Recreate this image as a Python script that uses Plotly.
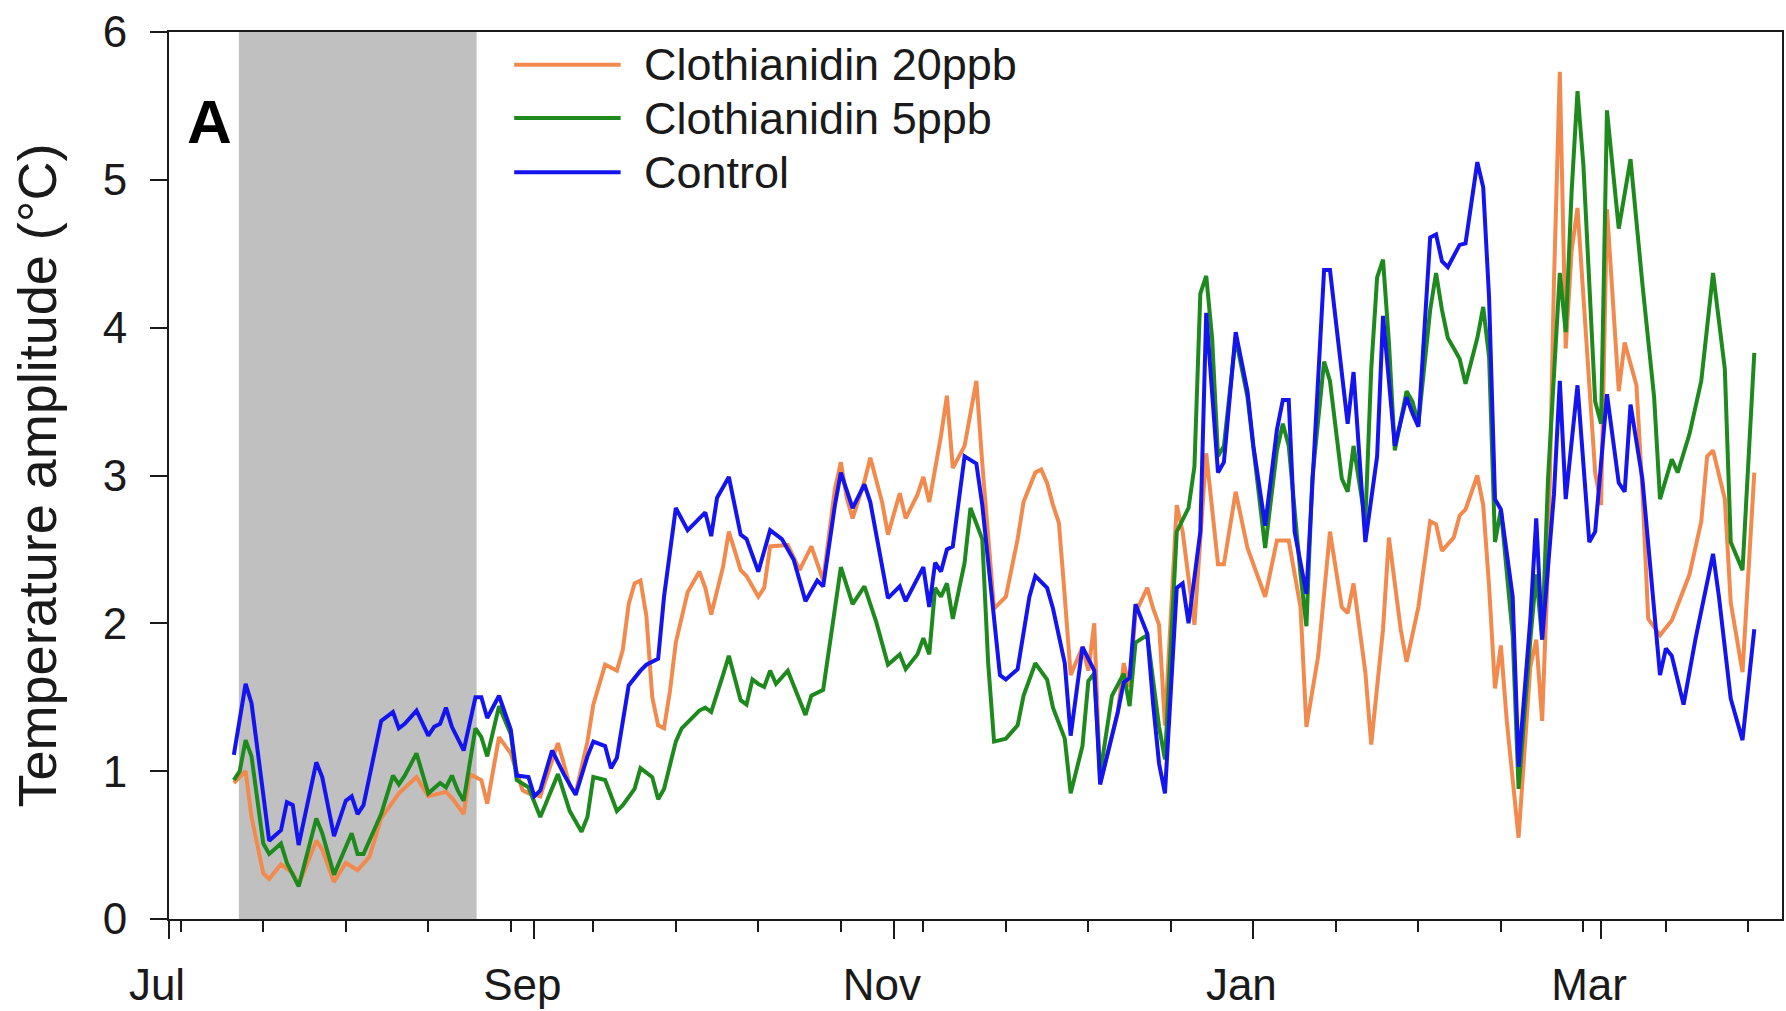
import plotly.graph_objects as go
from datetime import datetime, timedelta

# Season runs from 1 July; every x value below is "days since 1 July".
SEASON_START = datetime(2014, 7, 1)
SEASON_LENGTH = 273.7

# Daily temperature amplitude (°C) per treatment
c20_days = [11, 13, 14, 16, 17, 19, 21, 22, 25, 26, 28, 30, 32, 34, 36, 39, 42, 44, 47, 48,
            50, 51, 53, 54, 56, 58, 60, 61, 63, 66, 67, 68, 69, 71, 72, 74, 76, 77, 78, 79,
            80, 81, 82, 83, 84, 85, 86, 88, 90, 91, 92, 94, 95, 97, 98, 100, 101, 102, 105, 107,
            109, 110, 111, 113, 114, 115, 116, 118, 119, 121, 122, 124, 125, 127, 128, 129, 131, 132, 133, 135,
            137, 138, 140, 142, 144, 145, 147, 148, 149, 150, 151, 152, 153, 155, 156, 157, 158, 161, 162, 163,
            164, 166, 167, 168, 169, 171, 172, 174, 176, 178, 179, 181, 183, 186, 188, 190, 192, 193, 195, 197,
            199, 200, 201, 203, 204, 206, 207, 209, 210, 212, 214, 215, 216, 218, 219, 220, 222, 223, 224, 225,
            226, 227, 229, 231, 232, 233, 234, 235, 236, 237, 238, 239, 240, 242, 243, 244, 246, 247, 249, 250,
            251, 253, 255, 258, 260, 261, 262, 264, 265, 267, 269]
c20_vals = [0.92, 1.00, 0.69, 0.31, 0.27, 0.37, 0.31, 0.23, 0.53, 0.47, 0.25, 0.38, 0.33, 0.42, 0.68, 0.85, 0.96, 0.83, 0.86, 0.82,
            0.71, 0.98, 0.94, 0.78, 1.23, 1.12, 0.87, 0.85, 0.83, 1.19, 1.05, 0.90, 0.85, 1.20, 1.45, 1.72, 1.68, 1.82, 2.13, 2.27,
            2.29, 2.05, 1.50, 1.31, 1.29, 1.54, 1.87, 2.21, 2.35, 2.24, 2.06, 2.38, 2.62, 2.36, 2.32, 2.18, 2.24, 2.52, 2.53, 2.36,
            2.52, 2.41, 2.29, 2.91, 3.09, 2.85, 2.71, 2.96, 3.12, 2.82, 2.60, 2.88, 2.71, 2.87, 2.99, 2.82, 3.27, 3.54, 3.05, 3.20,
            3.64, 3.08, 2.10, 2.18, 2.57, 2.82, 3.02, 3.04, 2.95, 2.80, 2.68, 2.18, 1.65, 1.84, 1.68, 2.00, 0.92, 1.40, 1.73, 1.57,
            2.07, 2.24, 2.10, 1.99, 1.31, 2.80, 2.62, 1.99, 3.15, 2.40, 2.40, 2.89, 2.51, 2.18, 2.56, 2.56, 2.11, 1.30, 1.78, 2.62,
            2.11, 2.07, 2.27, 1.67, 1.18, 1.96, 2.58, 1.96, 1.74, 2.11, 2.69, 2.67, 2.49, 2.58, 2.73, 2.77, 3.00, 2.80, 2.25, 1.56,
            1.85, 1.34, 0.55, 1.71, 1.89, 1.34, 2.40, 4.30, 5.73, 3.86, 4.52, 4.81, 4.19, 3.02, 2.80, 4.80, 3.57, 3.90, 3.61, 2.91,
            2.03, 1.92, 2.02, 2.33, 2.69, 3.13, 3.17, 2.84, 2.14, 1.67, 3.02]

c5_days = [11, 12, 13, 14, 16, 17, 19, 20, 22, 25, 26, 28, 31, 32, 33, 36, 38, 39, 40, 42,
           44, 46, 47, 48, 49, 50, 52, 53, 54, 56, 58, 59, 61, 63, 66, 67, 68, 70, 71, 72,
           74, 76, 77, 79, 80, 82, 83, 84, 86, 87, 90, 91, 92, 94, 95, 97, 98, 99, 100, 101,
           102, 103, 105, 106, 108, 109, 111, 113, 114, 116, 118, 120, 122, 124, 125, 127, 128, 129, 130, 131,
           132, 133, 135, 136, 138, 139, 140, 142, 144, 145, 147, 149, 150, 152, 153, 155, 156, 157, 158, 160,
           162, 163, 164, 166, 168, 169, 171, 173, 174, 175, 176, 177, 178, 179, 181, 183, 184, 186, 188, 189,
           190, 192, 193, 194, 196, 197, 199, 200, 201, 203, 204, 205, 206, 207, 208, 210, 211, 212, 214, 215,
           216, 217, 218, 219, 220, 222, 223, 224, 225, 226, 228, 229, 231, 232, 233, 234, 236, 237, 238, 239,
           240, 242, 243, 244, 246, 248, 250, 252, 253, 255, 256, 258, 260, 262, 264, 265, 267, 269]
c5_vals = [0.94, 1.00, 1.21, 1.10, 0.51, 0.44, 0.51, 0.38, 0.22, 0.68, 0.58, 0.30, 0.58, 0.44, 0.44, 0.71, 0.97, 0.91, 0.97, 1.12,
           0.85, 0.92, 0.89, 0.97, 0.87, 0.80, 1.29, 1.23, 1.10, 1.44, 1.25, 0.94, 0.89, 0.69, 0.98, 0.85, 0.73, 0.59, 0.69, 0.96,
           0.94, 0.73, 0.77, 0.88, 1.02, 0.96, 0.81, 0.88, 1.20, 1.29, 1.41, 1.43, 1.40, 1.65, 1.78, 1.48, 1.45, 1.62, 1.59, 1.57,
           1.68, 1.59, 1.68, 1.58, 1.38, 1.51, 1.55, 2.10, 2.38, 2.13, 2.25, 2.01, 1.72, 1.79, 1.69, 1.79, 1.90, 1.79, 2.24, 2.18,
           2.27, 2.03, 2.41, 2.78, 2.57, 1.73, 1.20, 1.22, 1.31, 1.51, 1.73, 1.62, 1.43, 1.22, 0.85, 1.17, 1.61, 1.66, 0.98, 1.51,
           1.66, 1.44, 1.87, 1.92, 1.30, 1.08, 2.62, 2.78, 3.06, 4.23, 4.35, 3.93, 3.13, 3.20, 3.93, 3.53, 3.17, 2.51, 3.17, 3.35,
           3.20, 2.33, 1.98, 2.98, 3.77, 3.64, 2.98, 2.89, 3.20, 2.69, 3.72, 4.34, 4.46, 3.90, 3.17, 3.57, 3.50, 3.35, 4.12, 4.37,
           4.12, 3.93, 3.86, 3.79, 3.62, 3.93, 4.14, 3.80, 2.55, 2.77, 1.92, 0.88, 1.89, 2.33, 1.89, 2.98, 4.37, 3.97, 4.92, 5.60,
           5.10, 3.50, 3.35, 5.47, 4.67, 5.14, 4.30, 3.53, 2.84, 3.11, 3.02, 3.28, 3.64, 4.37, 3.72, 2.55, 2.36, 3.83]

ctrl_days = [11, 13, 14, 17, 19, 20, 21, 22, 25, 26, 28, 30, 31, 32, 33, 35, 36, 38, 39, 40,
             42, 44, 45, 46, 47, 48, 50, 52, 53, 54, 56, 58, 59, 61, 62, 63, 65, 67, 69, 71,
             72, 74, 75, 76, 78, 80, 81, 83, 84, 86, 88, 89, 91, 92, 93, 95, 97, 98, 100, 102,
             104, 106, 108, 110, 111, 113, 114, 116, 118, 119, 122, 124, 125, 128, 129, 130, 131, 132, 133, 135,
             137, 138, 141, 142, 144, 146, 147, 149, 150, 152, 153, 155, 157, 158, 161, 162, 163, 164, 166, 167,
             168, 169, 171, 172, 173, 175, 176, 178, 179, 181, 183, 184, 186, 188, 189, 190, 191, 193, 195, 196,
             197, 200, 201, 203, 205, 206, 208, 210, 211, 212, 214, 215, 216, 217, 219, 220, 222, 223, 224, 225,
             226, 228, 229, 231, 232, 233, 235, 236, 237, 239, 241, 242, 244, 246, 247, 248, 250, 252, 253, 254,
             255, 257, 259, 262, 263, 265, 267, 269]
ctrl_vals = [1.11, 1.59, 1.46, 0.53, 0.60, 0.79, 0.77, 0.50, 1.06, 0.96, 0.56, 0.80, 0.83, 0.71, 0.77, 1.14, 1.34, 1.40, 1.29, 1.32,
             1.41, 1.24, 1.30, 1.32, 1.43, 1.30, 1.14, 1.50, 1.50, 1.36, 1.51, 1.28, 0.97, 0.96, 0.83, 0.87, 1.14, 0.98, 0.84, 1.10,
             1.20, 1.17, 1.02, 1.09, 1.58, 1.68, 1.72, 1.76, 2.18, 2.78, 2.63, 2.67, 2.75, 2.59, 2.85, 2.99, 2.60, 2.57, 2.35, 2.63,
             2.57, 2.43, 2.15, 2.29, 2.25, 2.80, 3.02, 2.78, 2.94, 2.82, 2.17, 2.25, 2.15, 2.38, 2.11, 2.41, 2.35, 2.50, 2.52, 3.13,
             3.08, 2.80, 1.65, 1.62, 1.69, 2.18, 2.32, 2.24, 2.10, 1.73, 1.24, 1.84, 1.68, 0.91, 1.40, 1.60, 1.63, 2.13, 1.93, 1.45,
             1.05, 0.85, 2.24, 2.27, 2.00, 2.62, 4.10, 3.02, 3.09, 3.97, 3.57, 3.20, 2.66, 3.31, 3.51, 3.51, 2.62, 2.20, 3.61, 4.39,
             4.39, 3.35, 3.70, 2.55, 3.13, 4.08, 3.20, 3.53, 3.42, 3.33, 4.61, 4.63, 4.45, 4.41, 4.56, 4.57, 5.12, 4.95, 4.20, 2.84,
             2.77, 2.18, 1.03, 2.03, 2.71, 1.89, 2.87, 3.64, 2.84, 3.61, 2.55, 2.62, 3.55, 2.95, 2.89, 3.48, 2.98, 2.07, 1.65, 1.83,
             1.78, 1.45, 1.89, 2.47, 2.18, 1.49, 1.21, 1.96]

series_names = ["Clothianidin 20ppb", "Clothianidin 5ppb", "Control"]
series_days = [c20_days, c5_days, ctrl_days]
series_vals = [c20_vals, c5_vals, ctrl_vals]
series_colors = ["#F28A4E", "#1E8A1E", "#1414F0"]

# Shaded period (days since 1 July)
shade_start_day = 11.85
shade_end_day = 52.2

month_ticks = ["2014-07-01", "2014-09-01", "2014-11-01", "2015-01-01", "2015-03-01"]
month_labels = ["Jul", "Sep", "Nov", "Jan", "Mar"]
y_ticks = [0, 1, 2, 3, 4, 5, 6]


def to_date(d):
    return SEASON_START + timedelta(days=d)


FONT = "Arial, Liberation Sans, sans-serif"
INK = "#1a1a1a"
LINE_W = 4

fig = go.Figure()
for name, days, vals, color in zip(series_names, series_days, series_vals, series_colors):
    fig.add_trace(go.Scatter(
        x=[to_date(d) for d in days], y=vals, mode="lines", name=name,
        line=dict(color=color, width=LINE_W), showlegend=False,
    ))

# grey band behind the traces
fig.add_shape(type="rect", xref="x", yref="paper",
              x0=to_date(shade_start_day), x1=to_date(shade_end_day), y0=0, y1=1,
              fillcolor="#C0C0C0", line=dict(width=0), layer="below")

# two-weekly minor ticks
minor_ticks = [to_date(2 + 14 * k) for k in range(20)]

# legend drawn as line samples with labels
leg_x0, leg_x1, leg_tx = 0.214, 0.280, 0.293
leg_rows = [0.963, 0.903, 0.842]
for name, color, yy in zip(series_names, series_colors, leg_rows):
    fig.add_shape(type="line", xref="paper", yref="paper", x0=leg_x0, x1=leg_x1, y0=yy, y1=yy,
                  line=dict(color=color, width=LINE_W))
    fig.add_annotation(xref="paper", yref="paper", x=leg_tx, y=yy, text=name, showarrow=False,
                       xanchor="left", yanchor="middle", font=dict(family=FONT, size=45, color=INK))

fig.add_annotation(xref="paper", yref="paper", x=0.0254, y=0.899, text="<b>A</b>", showarrow=False,
                   xanchor="center", yanchor="middle", font=dict(family=FONT, size=62, color="#000"))

fig.update_layout(
    width=1786, height=1011,
    margin=dict(l=169, r=2, t=32, b=89),
    paper_bgcolor="white", plot_bgcolor="white",
    font=dict(family=FONT, color=INK),
    xaxis=dict(
        type="date", range=[SEASON_START, to_date(SEASON_LENGTH)],
        tickmode="array", tickvals=month_ticks, ticktext=month_labels,
        ticks="outside", ticklen=18, tickwidth=2, tickcolor=INK,
        showline=True, linewidth=2, linecolor=INK, mirror=True,
        showgrid=False, zeroline=False,
        tickfont=dict(family=FONT, size=44, color=INK),
        ticklabelshift=-12, ticklabelstandoff=8,
        minor=dict(tickmode="array", tickvals=minor_ticks, ticks="outside",
                   ticklen=11, tickwidth=2, tickcolor=INK, showgrid=False),
    ),
    yaxis=dict(
        range=[0, 6], tickmode="array", tickvals=y_ticks,
        ticks="outside", ticklen=17, tickwidth=2, tickcolor=INK,
        showline=True, linewidth=2, linecolor=INK, mirror=True,
        showgrid=False, zeroline=False,
        tickfont=dict(family=FONT, size=44, color=INK),
        ticklabelstandoff=14,
        title=dict(text="Temperature amplitude (°C)", font=dict(family=FONT, size=54, color=INK), standoff=29),
    ),
)

fig.write_html("out.html")
